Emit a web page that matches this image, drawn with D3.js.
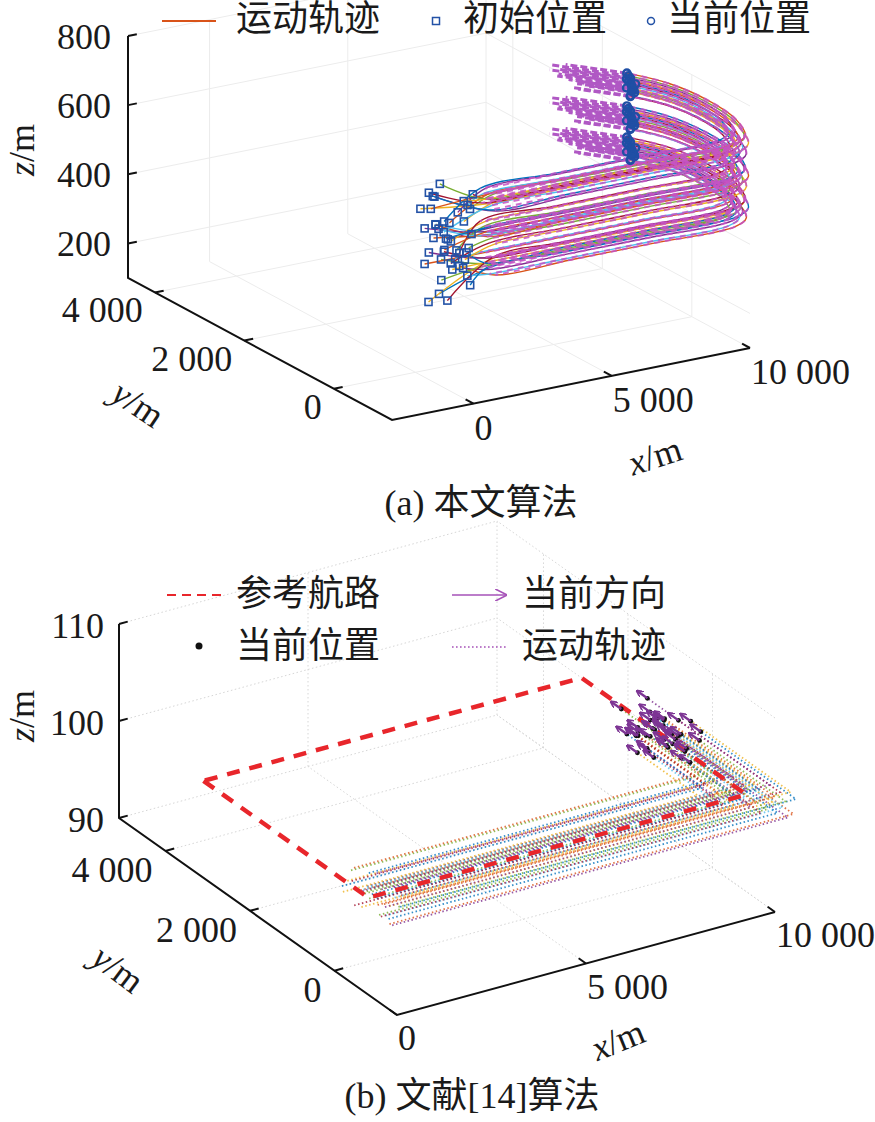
<!DOCTYPE html>
<html lang="zh">
<head>
<meta charset="UTF-8">
<title>编队运动轨迹对比</title>
<script src="https://cdn.jsdelivr.net/npm/d3@7"></script>
<style>
  body { margin: 0; background: #fff; }
  svg { display: block; }
  text { font-family: "Liberation Serif", Tinos, "Nimbus Roman", "DejaVu Serif", "Noto Sans CJK SC", serif; fill: #1a1a1a; }
</style>
</head>
<body>
<script>
// ---------- panel (a): 本文算法 ----------
const aXTicks = [0, 5000, 10000];
const aYTicks = [0, 2000, 4000];
const aZTicks = [200, 400, 600, 800];
const aTickText = { x: ["0", "5 000", "10 000"], y: ["0", "2 000", "4 000"], z: ["200", "400", "600", "800"] };

// three flight layers (z, m)
const aLayerZ = [510, 600, 695];
// centre line of each layer, waypoints (m)
const aPathX = [300, 3000, 6000, 8950, 9630, 10130, 10310, 10130, 9590];
const aPathY = [-1450, -1450, -1450, -1450, -1270, -770, -90, 590, 1110];
const aHeading = [-0.88, 0.47];
// per agent (15 per layer)
const aLateral = [-190, -150, -110, -80, -50, -20, 10, 40, 70, 100, 130, 160, 190, -130, 60];
const aLift = [10, -22, 24, -10, 4, -28, 16, -14, 28, -4, 8, -20, 20, 30, -2];
const aLead = [40, -60, 20, 70, -20, 0, 50, -70, 30, -40, 10, 60, -50, 50, -10];
const aArrowLen = [1500, 1200, 1700, 1100, 1600, 1300, 1750, 1000, 1450, 1250, 1650, 1150, 1550, 1350, 1400];
// initial positions, offsets from (-1200, centre y, layer z)
const aStartDx = [
  -600, 200, -850, 450, -300, 700, -100, 900, -700, 350, -450, 50, 600, -200, 800,
  -800, 400, -150, 650, -500, 100, 900, -350, 250, -650, 550, -50, 750, -250, 0,
  300, -700, 650, -250, 850, -550, 100, -900, 500, -100, 950, -400, 200, -800, 700];
const aStartDz = [
  -40, 25, -65, 10, 45, -20, 60, -55, 30, -5, 55, -35, 15, -70, 40,
  35, -50, 15, -25, 60, -65, 5, 50, -10, 40, -45, 25, -60, 20, -30,
  -30, 55, -5, -60, 30, 45, -45, 10, -25, 65, -15, 40, -55, 20, 5];

// ---------- panel (b): 文献[14]算法 ----------
const bXTicks = [0, 5000, 10000];
const bYTicks = [0, 2000, 4000];
const bZTicks = [90, 100, 110];
const bTickText = { x: ["0", "5 000", "10 000"], y: ["0", "2 000", "4 000"], z: ["90", "100", "110"] };

// reference route (closed rectangle at z = 100)
const bRouteX = [0, 0, 10000, 10000, 0];
const bRouteY = [3100, -800, -800, 3100, 3100];
const bRouteZ = [100, 100, 100, 100, 100];
// per agent (40)
const bLateral = [-620, -590, -555, -520, -490, -455, -420, -390, -355, -320, -290, -255, -220, -190, -155, -120, -90, -55, -20, 10,
  45, 80, 110, 145, 180, 210, 245, 280, 310, 345, 380, 410, 445, 480, 510, 545, 580, 610, -5, 160];
const bLift = [100.8, 99.2, 101.4, 98.7, 100.3, 99.6, 101.1, 98.9, 100.5, 99.9, 101.6, 99.0, 100.2, 98.5, 100.9, 99.4, 101.3, 98.8, 100.6, 99.7,
  101.0, 99.3, 100.4, 98.6, 101.5, 99.8, 100.1, 98.4, 101.2, 99.5, 100.7, 99.1, 101.4, 98.9, 100.0, 99.6, 101.0, 98.7, 100.5, 99.2];
const bStartX = [150, -100, 300, 50, 250, -50, 400, 100, -150, 200, 350, 0, 450, 120, -80, 280, 60, 380, -120, 220,
  20, 320, 160, -20, 420, 90, 240, -60, 360, 180, -130, 300, 40, 410, 130, -90, 270, 10, 340, 200];
const bEndY = [830, 1270, 1010, 1540, 745, 1710, 1180, 960, 1450, 1090, 1800, 880, 1360, 700, 1620, 1050, 1230, 790, 1490, 1140,
  920, 1400, 1320, 1670, 1010, 1580, 830, 1270, 1090, 1450, 745, 1180, 1760, 960, 1360, 1540, 1050, 1230, 880, 1620];

const lineColors = ["#0072BD", "#D95319", "#EDB120", "#7E2F8E", "#77AC30", "#4DBEEE", "#A2142F"];

// ---------- layout ----------
const panelA = { xDom: [-2950, 10000], yDom: [-1300, 4600], zDom: [100, 800],
  o: [392, 420], ex: [358, -72], ey: [-264, -142], ez: [0, -242],
  gridColor: "#ececec", gridDash: null,
  xLab: { dx: 1, dy: 24 }, yLab: { dx: -12, dy: 18 }, zLab: { dx: -17, dy: 1 },
  zTitle: [22, 150], yTitle: [138, 404, 34], xTitle: [655, 456, -18] };
const panelB = { xDom: [0, 10000], yDom: [-1480, 5100], zDom: [90, 110],
  o: [397, 1015], ex: [378, -103], ey: [-278, -197], ez: [0, -194],
  gridColor: "#d6d6d6", gridDash: "1.5,2.5",
  xLab: { dx: 1, dy: 23 }, yLab: { dx: -13, dy: 19 }, zLab: { dx: -15, dy: 2 },
  zTitle: [22, 716], yTitle: [118, 969, 37], xTitle: [618, 1040, -22] };

const svg = d3.select("body").append("svg").attr("width", 875).attr("height", 1122);

function makeProj(P) {
  const sx = d3.scaleLinear().domain(P.xDom).range([0, 1]);
  const sy = d3.scaleLinear().domain(P.yDom).range([0, 1]);
  const sz = d3.scaleLinear().domain(P.zDom).range([0, 1]);
  return function (x, y, z) {
    const u = sx(x), v = sy(y), w = sz(z);
    return [P.o[0] + u * P.ex[0] + v * P.ey[0] + w * P.ez[0],
            P.o[1] + u * P.ex[1] + v * P.ey[1] + w * P.ez[1]];
  };
}
function unit(v) { const l = Math.hypot(v[0], v[1]); return [v[0] / l, v[1] / l]; }

function drawFrame(P, proj, xt, yt, zt, tickText) {
  const [x0, x1] = P.xDom, [y0, y1] = P.yDom, [z0, z1] = P.zDom;
  const g = svg.append("g");
  const grid = g.append("g").attr("stroke", P.gridColor).attr("stroke-width", 1)
    .attr("stroke-dasharray", P.gridDash).attr("fill", "none");
  const seg = (sel, a, b) => sel.append("line")
    .attr("x1", a[0]).attr("y1", a[1]).attr("x2", b[0]).attr("y2", b[1]);
  xt.forEach(x => seg(grid, proj(x, y0, z0), proj(x, y1, z0)));
  yt.forEach(y => seg(grid, proj(x0, y, z0), proj(x1, y, z0)));
  xt.forEach(x => seg(grid, proj(x, y1, z0), proj(x, y1, z1)));
  zt.forEach(z => seg(grid, proj(x0, y1, z), proj(x1, y1, z)));
  yt.forEach(y => seg(grid, proj(x1, y, z0), proj(x1, y, z1)));
  zt.forEach(z => seg(grid, proj(x1, y0, z), proj(x1, y1, z)));

  const axis = g.append("g").attr("stroke", "#111").attr("stroke-width", 2).attr("fill", "none");
  axis.append("path").attr("stroke-linejoin", "miter")
    .attr("d", d3.line()([proj(x1, y0, z0), proj(x0, y0, z0), proj(x0, y1, z0), proj(x0, y1, z1)]));

  const exU = unit(P.ex), eyU = unit(P.ey), tl = 9;
  const labels = g.append("g").attr("font-size", 36).attr("dominant-baseline", "central");
  xt.forEach((x, i) => {
    const p = proj(x, y0, z0);
    seg(axis, p, [p[0] + eyU[0] * tl, p[1] + eyU[1] * tl]);
    labels.append("text").attr("x", p[0] + P.xLab.dx).attr("y", p[1] + P.xLab.dy)
      .attr("text-anchor", "start").text(tickText.x[i]);
  });
  yt.forEach((y, i) => {
    const p = proj(x0, y, z0);
    seg(axis, p, [p[0] + exU[0] * tl, p[1] + exU[1] * tl]);
    labels.append("text").attr("x", p[0] + P.yLab.dx).attr("y", p[1] + P.yLab.dy)
      .attr("text-anchor", "end").text(tickText.y[i]);
  });
  zt.forEach((z, i) => {
    const p = proj(x0, y1, z);
    seg(axis, p, [p[0] + exU[0] * tl, p[1] + exU[1] * tl]);
    labels.append("text").attr("x", p[0] + P.zLab.dx).attr("y", p[1] + P.zLab.dy)
      .attr("text-anchor", "end").text(tickText.z[i]);
  });

  const title = (pos, rot, v) => {
    const t = labels.append("text").attr("text-anchor", "middle")
      .attr("transform", `translate(${pos[0]},${pos[1]}) rotate(${rot})`);
    t.append("tspan").attr("font-style", "italic").text(v);
    t.append("tspan").text("/m");
  };
  title(P.zTitle, -90, "z");
  title(P.yTitle, P.yTitle[2], "y");
  title(P.xTitle, P.xTitle[2], "x");
}

// ================= panel (a) =================
const projA = makeProj(panelA);
drawFrame(panelA, projA, aXTicks, aYTicks, aZTicks, aTickText);

const smooth = d3.line().curve(d3.curveCatmullRom.alpha(0.5));
const nA = aLateral.length;
const aNormals = aPathX.map((x, j) => {
  const a = Math.max(0, j - 1), b = Math.min(aPathX.length - 1, j + 1);
  const t = unit([aPathX[b] - aPathX[a], aPathY[b] - aPathY[a]]);
  return [-t[1], t[0]];
});
const aAgents = [];
aLayerZ.forEach((lz, L) => {
  for (let i = 0; i < nA; i++) {
    const k = L * nA + i;
    const z = lz + aLift[i];
    const pts = [[-1200 + aStartDx[k], aPathY[0] + aLateral[i], lz + aStartDz[k]]];
    aPathX.forEach((x, j) => {
      let px = x + aLateral[i] * aNormals[j][0], py = aPathY[j] + aLateral[i] * aNormals[j][1];
      if (j === aPathX.length - 1) { px += aLead[i] * aHeading[0]; py += aLead[i] * aHeading[1]; }
      pts.push([px, py, z]);
    });
    const end = pts[pts.length - 1];
    aAgents.push({ k, pts, end, arrow: [end, [end[0] + aArrowLen[i] * aHeading[0], end[1] + aArrowLen[i] * aHeading[1], end[2]]] });
  }
});
const gA = svg.append("g");
gA.append("g").selectAll("path").data(aAgents).join("path")
  .attr("d", d => smooth(d.pts.map(p => projA(...p))))
  .attr("fill", "none").attr("stroke", d => lineColors[d.k % 7]).attr("stroke-width", 1.4);
gA.append("g").selectAll("path").data(aAgents).join("path")
  .attr("d", d => smooth(d.pts.slice(1).map(p => projA(...p))))
  .attr("fill", "none").attr("stroke", "#c553c4").attr("stroke-width", 2)
  .attr("stroke-dasharray", "6,5").attr("stroke-dashoffset", d => d.k * 3).attr("opacity", 0.85);
gA.append("g").selectAll("path").data(aAgents).join("path")
  .attr("d", d => d3.line()(d.arrow.map(p => projA(...p))))
  .attr("fill", "none").attr("stroke", "#b058c4").attr("stroke-width", 3)
  .attr("stroke-dasharray", "7,3");
gA.append("g").selectAll("rect").data(aAgents).join("rect")
  .attr("x", d => projA(...d.pts[0])[0] - 3.5).attr("y", d => projA(...d.pts[0])[1] - 3.5)
  .attr("width", 7).attr("height", 7)
  .attr("fill", "none").attr("stroke", "#2352a6").attr("stroke-width", 1.6);
gA.append("g").selectAll("circle").data(aAgents).join("circle")
  .attr("cx", d => projA(...d.end)[0]).attr("cy", d => projA(...d.end)[1]).attr("r", 3.6)
  .attr("fill", "none").attr("stroke", "#1f4fa5").attr("stroke-width", 2.4);

// legend (a)
const legA = svg.append("g").attr("font-size", 36).attr("dominant-baseline", "central");
legA.append("line").attr("x1", 162).attr("x2", 216).attr("y1", 21).attr("y2", 21)
  .attr("stroke", "#D95319").attr("stroke-width", 2);
legA.append("text").attr("x", 236).attr("y", 19).text("运动轨迹");
legA.append("rect").attr("x", 432.5).attr("y", 17.5).attr("width", 7).attr("height", 7)
  .attr("fill", "none").attr("stroke", "#2352a6").attr("stroke-width", 1.5);
legA.append("text").attr("x", 463).attr("y", 19).text("初始位置");
legA.append("circle").attr("cx", 651).attr("cy", 21).attr("r", 3.5)
  .attr("fill", "none").attr("stroke", "#2352a6").attr("stroke-width", 1.5);
legA.append("text").attr("x", 667).attr("y", 19).text("当前位置");

svg.append("text").attr("x", 481).attr("y", 503).attr("font-size", 36)
  .attr("text-anchor", "middle").attr("dominant-baseline", "central").text("(a) 本文算法");

// ================= panel (b) =================
const projB = makeProj(panelB);
drawFrame(panelB, projB, bXTicks, bYTicks, bZTicks, bTickText);

const defs = svg.append("defs");
defs.append("marker").attr("id", "head").attr("viewBox", "0 0 10 10").attr("refX", 9).attr("refY", 5)
  .attr("markerWidth", 7).attr("markerHeight", 7).attr("markerUnits", "userSpaceOnUse").attr("orient", "auto")
  .append("path").attr("d", "M0,0 L10,5 L0,10").attr("fill", "none").attr("stroke", "#7d3594").attr("stroke-width", 2.4);
defs.append("marker").attr("id", "headLeg").attr("viewBox", "0 0 10 10").attr("refX", 9).attr("refY", 5)
  .attr("markerWidth", 12).attr("markerHeight", 12).attr("markerUnits", "userSpaceOnUse").attr("orient", "auto")
  .append("path").attr("d", "M0,0 L10,5 L0,10").attr("fill", "none").attr("stroke", "#a652b8").attr("stroke-width", 1.4);

const bAgents = bLateral.map((l, i) => {
  const z = bLift[i];
  const pts = [[bStartX[i], bRouteY[1] + l, z], [bRouteX[2] - l, bRouteY[2] + l, z], [bRouteX[2] - l, bEndY[i], z]];
  return { i, pts, end: pts[2] };
});
const gB = svg.append("g");
gB.append("g").selectAll("path").data(bAgents).join("path")
  .attr("d", d => d3.line()(d.pts.map(p => projB(...p))))
  .attr("fill", "none").attr("stroke", d => lineColors[d.i % 7]).attr("stroke-width", 1.8)
  .attr("stroke-dasharray", "1.5,2.5").attr("opacity", 0.8);
gB.append("path")
  .attr("d", d3.line()(bRouteX.map((x, j) => projB(x, bRouteY[j], bRouteZ[j]))))
  .attr("fill", "none").attr("stroke", "#e8262b").attr("stroke-width", 4.5).attr("stroke-dasharray", "13,10");
gB.append("g").selectAll("circle").data(bAgents).join("circle")
  .attr("cx", d => projB(...d.end)[0]).attr("cy", d => projB(...d.end)[1]).attr("r", 2.4).attr("fill", "#111");
gB.append("g").selectAll("line").data(bAgents).join("line")
  .each(function (d) {
    const a = projB(...d.end), b = projB(d.end[0], d.end[1] + 250, d.end[2]);
    d3.select(this).attr("x1", a[0]).attr("y1", a[1]).attr("x2", b[0]).attr("y2", b[1]);
  })
  .attr("stroke", "#7d3594").attr("stroke-width", 2.4).attr("marker-end", "url(#head)");

// legend (b)
const legB = svg.append("g").attr("font-size", 36).attr("dominant-baseline", "central");
legB.append("line").attr("x1", 167).attr("x2", 222).attr("y1", 595).attr("y2", 595)
  .attr("stroke", "#e8262b").attr("stroke-width", 2).attr("stroke-dasharray", "9,6");
legB.append("text").attr("x", 236).attr("y", 594).text("参考航路");
legB.append("circle").attr("cx", 199).attr("cy", 646).attr("r", 3.5).attr("fill", "#111");
legB.append("text").attr("x", 236).attr("y", 646).text("当前位置");
legB.append("line").attr("x1", 452).attr("x2", 506).attr("y1", 595).attr("y2", 595)
  .attr("stroke", "#a652b8").attr("stroke-width", 1.4).attr("marker-end", "url(#headLeg)");
legB.append("text").attr("x", 522).attr("y", 594).text("当前方向");
legB.append("line").attr("x1", 452).attr("x2", 506).attr("y1", 647).attr("y2", 647)
  .attr("stroke", "#a652b8").attr("stroke-width", 1.6).attr("stroke-dasharray", "1.6,2.4");
legB.append("text").attr("x", 522).attr("y", 646).text("运动轨迹");

svg.append("text").attr("x", 472).attr("y", 1096).attr("font-size", 36)
  .attr("text-anchor", "middle").attr("dominant-baseline", "central").text("(b) 文献[14]算法");
</script>
</body>
</html>
